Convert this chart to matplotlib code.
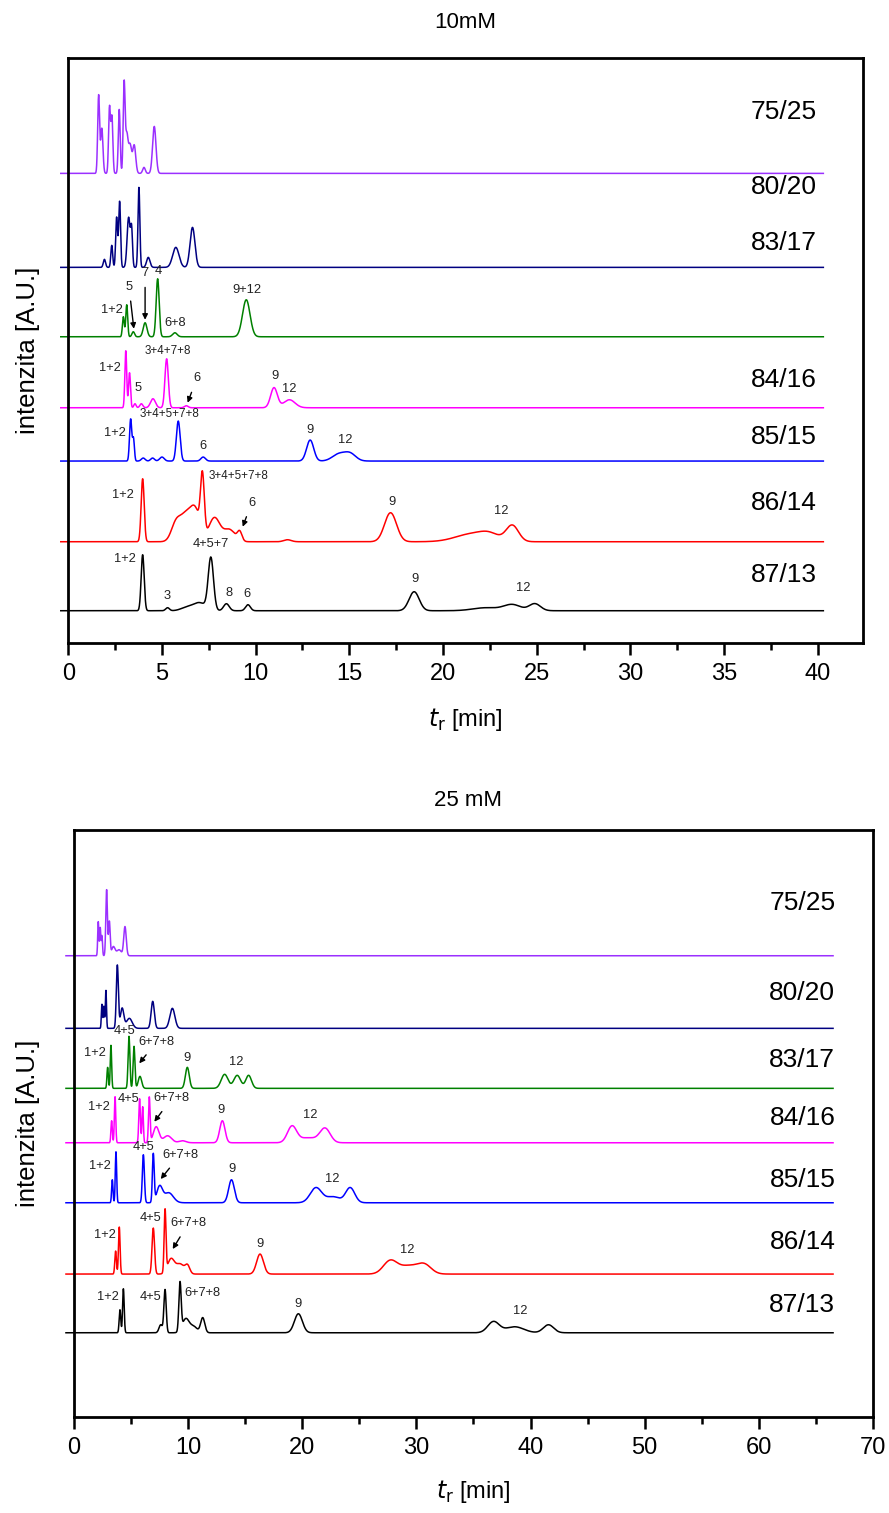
import numpy as np
import matplotlib.pyplot as plt
from matplotlib.ticker import MultipleLocator

plt.rcParams["font.family"] = ["Liberation Sans", "DejaVu Sans"]
plt.rcParams["mathtext.fontset"] = "custom"
plt.rcParams["mathtext.rm"] = "Liberation Sans Narrow"
plt.rcParams["mathtext.it"] = "Liberation Sans Narrow:italic"

NARROW = ["Liberation Sans Narrow", "Liberation Sans", "DejaVu Sans"]

RATIOS = ["75/25", "80/20", "83/17", "84/16", "85/15", "86/14", "87/13"]
COLORS = ["#9B30FF", "#000080", "#008000", "#FF00FF", "#0000FF", "#FF0000", "#000000"]

# ---- 10 mM ----
BASE_10 = [469.4, 375.4, 306.0, 235.0, 181.7, 101.0, 32.0]
LABEL_Y_10 = [531.0, 455.7, 399.7, 262.7, 205.7, 140.0, 67.7]

# peaks: (t_r [min], height [A.U.], sigma [min])
PEAKS_10 = [
    [(1.62, 78, 0.05), (1.79, 45, 0.06), (2.20, 66, 0.05), (2.33, 56, 0.05),
     (2.72, 64, 0.05), (2.98, 88, 0.05), (3.12, 38, 0.07), (3.30, 28, 0.08),
     (3.52, 28, 0.08), (4.04, 6, 0.07), (4.59, 47, 0.09)],
    [(1.93, 8, 0.06), (2.32, 22, 0.05), (2.58, 50, 0.05), (2.74, 66, 0.05),
     (3.22, 50, 0.08), (3.38, 36, 0.05), (3.77, 80, 0.05), (4.27, 10, 0.09),
     (5.74, 20, 0.17), (6.63, 40, 0.13)],
    [(2.94, 20, 0.05), (3.12, 32, 0.05), (3.47, 5, 0.07), (4.10, 14, 0.1),
     (4.77, 58, 0.08), (5.69, 4, 0.12), (9.50, 37, 0.2)],
    [(3.07, 57, 0.05), (3.27, 35, 0.05), (3.56, 4, 0.06), (3.90, 4, 0.08),
     (4.52, 9, 0.13), (5.25, 49, 0.09), (6.30, 2, 0.1), (10.98, 20, 0.18),
     (11.80, 8, 0.3)],
    [(3.33, 42, 0.06), (3.48, 22, 0.05), (4.00, 3, 0.1), (4.50, 3, 0.1),
     (5.00, 4, 0.12), (5.87, 40, 0.1), (7.20, 4, 0.12), (12.91, 21, 0.19),
     (14.45, 7, 0.35), (15.05, 7, 0.3)],
    [(3.97, 63, 0.08), (5.75, 18, 0.25), (6.30, 26, 0.3), (6.80, 28, 0.25),
     (7.16, 58, 0.1), (7.80, 24, 0.3), (8.60, 12, 0.3), (9.15, 9, 0.12),
     (11.70, 2, 0.2), (17.20, 29, 0.32), (21.60, 8, 0.9), (22.50, 5, 0.5),
     (23.70, 16, 0.33)],
    [(3.97, 56, 0.08), (5.30, 3, 0.1), (6.30, 3, 0.3), (7.00, 8, 0.35),
     (7.61, 52, 0.14), (8.44, 7, 0.15), (9.59, 6, 0.13), (18.46, 19, 0.27),
     (22.30, 3, 0.7), (23.70, 6, 0.45), (24.90, 7, 0.3)],
]

# peak notes: (text, t_r, y, arrow tip or None)
NOTES_10 = [
    [],
    [],
    [("1+2", 2.32, 332.7, None), ("5", 3.24, 356.0, (3.50, 314.0)),
     ("7", 4.10, 369.7, (4.10, 323.0)), ("4", 4.80, 372.0, None),
     ("6+8", 5.70, 319.7, None), ("9+12", 9.52, 352.7, None)],
    [("1+2", 2.23, 274.4, None), ("5", 3.70, 255.0, None),
     ("3+4+7+8", 5.29, 292.0, None), ("6", 6.86, 264.4, (6.37, 240.0)),
     ("9", 11.04, 266.7, None), ("12", 11.80, 253.4, None)],
    [("1+2", 2.49, 209.4, None), ("3+4+5+7+8", 5.43, 228.7, None),
     ("6", 7.21, 196.7, None), ("9", 12.90, 212.7, None), ("12", 14.77, 202.7, None)],
    [("1+2", 2.94, 147.7, None), ("3+4+5+7+8", 9.10, 166.7, None),
     ("6", 9.79, 140.0, (9.31, 116.0)), ("9", 17.27, 141.0, None),
     ("12", 23.09, 132.0, None)],
    [("1+2", 3.03, 83.4, None), ("3", 5.25, 46.7, None), ("4+5+7", 7.60, 98.7, None),
     ("8", 8.58, 50.0, None), ("6", 9.52, 48.7, None), ("9", 18.51, 63.4, None),
     ("12", 24.29, 54.4, None)],
]

# ---- 25 mM ----
BASE_25 = [461.0, 388.4, 328.4, 274.0, 214.0, 142.7, 84.0]
LABEL_Y_25 = [513.7, 423.7, 356.7, 298.7, 236.7, 175.0, 111.7]

PEAKS_25 = [
    [(2.13, 34, 0.05), (2.30, 28, 0.05), (2.45, 20, 0.05), (2.86, 66, 0.07),
     (3.10, 34, 0.07), (3.45, 9, 0.15), (3.95, 6, 0.2), (4.47, 29, 0.11)],
    [(2.45, 24, 0.05), (2.62, 22, 0.05), (2.80, 38, 0.05), (3.80, 63, 0.09),
     (4.22, 20, 0.15), (4.85, 10, 0.25), (6.90, 27, 0.14), (8.62, 20, 0.22)],
    [(2.95, 21, 0.06), (3.24, 43, 0.06), (4.82, 52, 0.08), (5.26, 42, 0.08),
     (5.78, 12, 0.15), (9.93, 21, 0.17), (13.20, 14, 0.3), (14.30, 13, 0.3),
     (15.30, 13, 0.25)],
    [(3.30, 22, 0.06), (3.60, 46, 0.06), (5.75, 44, 0.07), (6.02, 36, 0.06),
     (6.60, 45, 0.07), (7.20, 16, 0.25), (8.20, 7, 0.35), (9.50, 2, 0.3),
     (13.00, 22, 0.23), (19.10, 16, 0.4), (20.50, 5, 0.8), (22.00, 14, 0.45)],
    [(3.36, 23, 0.06), (3.68, 51, 0.06), (6.08, 48, 0.09), (6.95, 48, 0.08),
     (7.50, 16, 0.25), (8.30, 10, 0.4), (13.80, 23, 0.25), (21.20, 15, 0.5),
     (22.70, 6, 0.6), (24.20, 15, 0.4)],
    [(3.65, 23, 0.07), (3.97, 47, 0.07), (6.95, 46, 0.11), (7.98, 62, 0.08),
     (8.50, 15, 0.3), (9.30, 10, 0.35), (9.95, 8, 0.2), (16.30, 20, 0.3),
     (27.70, 13, 0.6), (29.30, 8, 0.8), (30.70, 9, 0.6)],
    [(4.03, 23, 0.07), (4.33, 44, 0.07), (7.60, 8, 0.15), (7.98, 43, 0.1),
     (9.29, 48, 0.1), (9.80, 14, 0.3), (10.50, 6, 0.3), (11.28, 15, 0.18),
     (19.66, 19, 0.35), (36.75, 11, 0.5), (38.60, 6, 0.8), (41.57, 8, 0.45)],
]

NOTES_25 = [
    [],
    [],
    [("1+2", 1.84, 363.4, None), ("4+5", 4.47, 386.0, None),
     ("6+7+8", 7.25, 375.0, (5.72, 353.4)), ("9", 9.93, 358.4, None),
     ("12", 14.20, 355.0, None)],
    [("1+2", 2.22, 309.4, None), ("4+5", 4.76, 317.4, None),
     ("6+7+8", 8.56, 318.4, (7.04, 295.0)), ("9", 12.88, 306.7, None),
     ("12", 20.68, 301.7, None)],
    [("1+2", 2.28, 251.0, None), ("4+5", 6.13, 270.0, None),
     ("6+7+8", 9.29, 261.7, (7.60, 237.7)), ("9", 13.82, 247.7, None),
     ("12", 22.67, 237.7, None)],
    [("1+2", 2.72, 181.7, None), ("4+5", 6.72, 198.4, None),
     ("6+7+8", 10.02, 193.4, (8.65, 167.7)), ("9", 16.30, 172.7, None),
     ("12", 29.16, 166.7, None)],
    [("1+2", 3.00, 120.0, None), ("4+5", 6.72, 120.0, None),
     ("6+7+8", 11.26, 123.4, None), ("9", 19.60, 112.7, None),
     ("12", 39.09, 106.0, None)],
]


def chromatogram(t, peaks):
    y = np.zeros_like(t)
    for t0, h, s in peaks:
        y += h * np.exp(-0.5 * ((t - t0) / s) ** 2)
    return y


def draw_panel(ax, t, xmax, ymax, major, base, peaks, notes, label_x, label_y):
    for i, ratio in enumerate(RATIOS):
        ax.plot(t, base[i] + chromatogram(t, peaks[i]), color=COLORS[i],
                lw=1.1, clip_on=False)
        ax.text(label_x, label_y[i], ratio, ha="right", va="center", fontsize=19)
        for text, x, y, tip in notes[i]:
            size = 8.4 if len(text) > 5 else 9.3
            if tip is None:
                ax.text(x, y, text, ha="center", va="center", fontsize=size, color="#222222")
            else:
                ax.annotate(text, xy=tip, xytext=(x, y), ha="center", va="center",
                            fontsize=size, color="#222222",
                            arrowprops=dict(arrowstyle="-|>", color="black", lw=1.0,
                                            mutation_scale=8, shrinkA=4, shrinkB=0))
    ax.set_xlim(0, xmax)
    ax.set_ylim(0, ymax)
    ax.set_yticks([])
    ax.xaxis.set_major_locator(MultipleLocator(major))
    ax.xaxis.set_minor_locator(MultipleLocator(major / 2))
    ax.tick_params(axis="x", which="major", direction="out", length=8.5, width=1.8, pad=6)
    ax.tick_params(axis="x", which="minor", direction="out", length=5, width=1.8)
    for lbl in ax.get_xticklabels():
        lbl.set_family(NARROW)
        lbl.set_fontsize(17)
    for sp in ax.spines.values():
        sp.set_linewidth(2.0)
    ax.set_xlabel(r"$t_{\mathrm{r}}$ [min]", fontsize=17, family=NARROW)
    ax.set_ylabel("intenzita [A.U.]", fontsize=18.5)


fig = plt.figure(figsize=(8.89, 15.13), dpi=100)

ax1 = fig.add_axes([0.0768, 0.5752, 0.8936, 0.3862])
t1 = np.linspace(-0.4, 40.3, 5000)
draw_panel(ax1, t1, 42.4, 584.4, 5, BASE_10, PEAKS_10, NOTES_10, 39.96, LABEL_Y_10)
ax1.xaxis.set_label_coords(0.5, -0.108)
ax1.yaxis.set_label_coords(-0.0356, 0.5)
fig.text(0.5236, 1 - 22 / 1513, "10mM", ha="center", va="center", fontsize=16)

ax2 = fig.add_axes([0.0832, 0.0636, 0.8988, 0.3878])
t2 = np.linspace(-0.7, 66.5, 8000)
draw_panel(ax2, t2, 70, 586.7, 10, BASE_25, PEAKS_25, NOTES_25, 66.7, LABEL_Y_25)
ax2.xaxis.set_label_coords(0.5, -0.104)
ax2.yaxis.set_label_coords(-0.0426, 0.5)
fig.text(0.5264, 1 - 800 / 1513, "25 mM", ha="center", va="center", fontsize=16)

fig.savefig("out.png", dpi=100)
